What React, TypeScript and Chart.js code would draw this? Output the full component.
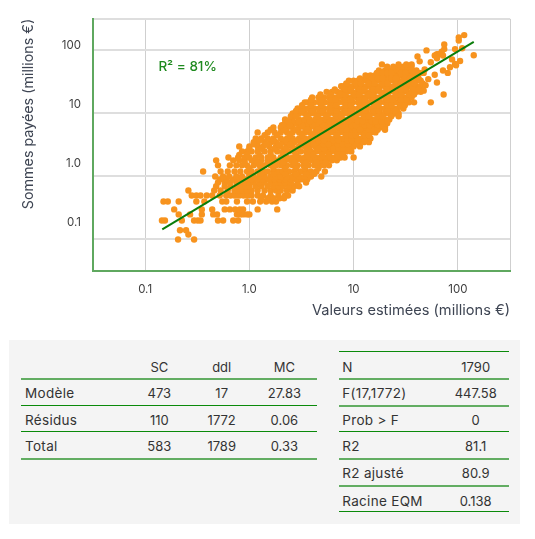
import React, { useEffect, useRef } from "react";
import { Chart, registerables } from "chart.js";

Chart.register(...registerables);

const FONT = "Inter, 'Open Sans', sans-serif";
const xTickValues = [0.1, 1, 10, 100];
const yTickValues = [0.1, 1, 10, 100];
const xTitle = "Valeurs estimées (millions €)";
const yTitle = "Sommes payées (millions €)";
const r2Label = "R² = 81%";

const fitEstimated = [0.146, 142];
const fitPaid = [0.145, 137];

// Paid values appear in rows; each row lists the estimated values read along it
const paidRows = [
  0.1, 0.12, 0.14, 0.2, 0.25, 0.3, 0.4, 0.5, 0.6, 0.7, 0.8, 0.9, 1, 1.2, 1.5, 1.8, 2, 2.5, 3, 3.5, 4, 5, 6, 7, 8, 10,
  12, 15, 18, 22, 27, 33, 40, 48, 55, 60,
];
const estimatedRows = [
  [0.207, 0.295],
  [0.26],
  [0.216, 0.247],
  [0.145, 0.155, 0.225, 0.295, 0.32, 0.34, 0.5, 0.56, 0.7, 0.78],
  [0.21, 0.27, 0.35, 0.45, 0.49, 0.76, 0.81, 0.87, 0.95, 1.0],
  [0.19, 0.35, 0.44, 0.58, 0.65, 0.73, 0.81, 0.87, 1.2, 1.85],
  [0.15, 0.165, 0.21, 0.31, 0.37, 0.55, 0.6, 0.76, 0.95, 1.08, 1.27, 1.45, 1.65, 1.8],
  [0.28, 0.31, 0.34, 0.39, 0.44, 0.52, 0.6, 0.66, 0.72, 0.8, 0.88, 0.96, 1.05, 1.2, 1.35, 1.6, 1.9, 2.2, 2.35],
  [0.26, 0.46, 0.53, 0.62, 0.72, 0.78, 0.86, 0.95, 1.05, 1.2, 1.4, 1.6, 1.8, 2.0, 2.3, 2.6],
  [0.48, 0.58, 0.66, 0.76, 0.84, 0.92, 1.0, 1.15, 1.3, 1.5, 1.7, 1.9, 2.1, 2.4, 2.7, 3.0],
  [0.5, 0.58, 0.65, 0.75, 0.9, 1.0, 1.1, 1.25, 1.4, 1.6, 1.8, 2.0, 2.2, 2.5, 2.9, 3.5],
  [0.52, 0.6, 0.7, 0.8, 0.92, 1.05, 1.2, 1.35, 1.55, 1.75, 1.95, 2.2, 2.5, 2.8, 3.2, 3.6],
  [0.47, 0.56, 0.64, 0.75, 0.85, 1.0, 1.1, 1.25, 1.4, 1.6, 1.8, 2.0, 2.3, 2.6, 3.0, 3.4, 3.9, 4.9],
  [0.36, 0.53, 0.62, 0.72, 0.82, 0.95, 1.05, 1.2, 1.35, 1.5, 1.7, 1.9, 2.1, 2.4, 2.7, 3.1, 3.5, 3.9, 4.4, 5.3],
  [0.5, 0.65, 0.75, 0.85, 0.95, 1.1, 1.25, 1.4, 1.6, 1.8, 2.0, 2.3, 2.6, 2.9, 3.3, 3.7, 4.2, 4.7, 5.2, 5.8],
  [0.48, 0.7, 0.8, 0.9, 1.05, 1.15, 1.3, 1.5, 1.7, 1.9, 2.2, 2.5, 2.8, 3.2, 3.6, 4.0, 4.5, 5, 5.6, 6.2, 6.9],
  [0.63, 0.78, 0.9, 1, 1.15, 1.3, 1.5, 1.7, 2, 2.3, 2.6, 3, 3.4, 3.8, 4.3, 4.8, 5.3, 6, 6.6, 7.5, 8.2, 10],
  [0.85, 0.95, 1.05, 1.2, 1.4, 1.6, 1.85, 2.1, 2.4, 2.7, 3.1, 3.5, 3.9, 4.4, 4.9, 5.5, 6.1, 6.8, 7.6, 8.5, 9.5],
  [0.8, 1.0, 1.2, 1.35, 1.55, 1.8, 2, 2.3, 2.6, 3, 3.4, 3.8, 4.3, 4.8, 5.4, 6, 6.7, 7.4, 8.2, 9, 10, 11.5],
  [1.1, 1.2, 1.4, 1.6, 1.8, 2.1, 2.4, 2.7, 3.1, 3.5, 3.9, 4.4, 4.9, 5.5, 6.1, 6.8, 7.5, 8.3, 9.2, 10.2, 11.2, 12.5, 14],
  [1.15, 1.3, 1.5, 1.7, 2, 2.3, 2.6, 3, 3.4, 3.8, 4.3, 4.8, 5.3, 5.9, 6.6, 7.3, 8.1, 9, 10, 11, 12.2, 13.5, 14.5],
  [1.2, 1.5, 1.75, 2, 2.3, 2.6, 3, 3.4, 3.8, 4.3, 4.8, 5.3, 5.9, 6.5, 7.2, 8, 8.9, 9.8, 10.8, 12, 13.2, 14.6, 16.2],
  [1.7, 2, 2.3, 2.6, 3, 3.4, 3.8, 4.3, 4.8, 5.4, 6, 6.7, 7.4, 8.2, 9.1, 10, 11, 12.2, 13.5, 15, 16.5, 18, 20],
  [2.2, 2.5, 2.8, 3.2, 3.6, 4, 4.5, 5, 5.6, 6.2, 6.9, 7.7, 8.5, 9.4, 10.4, 11.5, 12.7, 14, 15.5, 17, 19, 21],
  [2.2, 2.6, 3, 3.4, 3.8, 4.3, 4.8, 5.3, 5.9, 6.5, 7.2, 8, 8.9, 9.9, 11, 12, 13.3, 14.7, 16.2, 18, 20, 22],
  [2.6, 3, 3.4, 3.8, 4.2, 4.7, 5.2, 5.8, 6.5, 7.2, 8, 8.9, 9.9, 11, 12.2, 13.5, 15, 16.5, 18, 20, 22, 24.5, 27],
  [2.9, 3.3, 3.7, 4.2, 4.7, 5.2, 5.8, 6.4, 7.1, 8, 8.9, 9.8, 11, 12.2, 13.5, 15, 16.5, 18, 20, 22, 24, 26.5, 30],
  [3.4, 3.6, 4.2, 4.7, 5.3, 5.9, 6.5, 7.2, 8, 8.9, 9.8, 11, 12, 13.5, 15, 16.5, 18, 20, 22, 25, 27.5, 30.5, 34, 38],
  [4, 4.6, 5.2, 5.8, 6.4, 7, 7.8, 8.7, 9.7, 10.7, 12, 13.2, 14.7, 16.3, 18, 20, 22, 24.5, 27, 30, 33, 36],
  [5.5, 6.2, 7, 7.8, 8.7, 9.6, 10.7, 11.8, 13, 14.5, 16, 18, 20, 22, 24.5, 27, 30, 33, 36, 40, 44],
  [7.6, 8, 8.9, 9.8, 10.8, 12, 13.3, 14.7, 16.3, 18, 20, 22, 24.5, 27, 30, 33, 36, 40, 44],
  [9, 10, 11, 12.2, 13.5, 15, 16.5, 18, 20, 22, 24.5, 27, 30, 33, 36, 40, 44],
  [13, 14.5, 16, 18, 20, 22, 24.5, 27, 30, 33, 36, 40],
  [17.5, 20, 22, 24.5, 27, 30, 33, 36, 40],
  [21, 24, 27, 30, 33, 36],
  [18.7, 27, 32, 36],
];
// Points lying between the rows inside the dense part of the cloud
const paidBetween = [0.45, 1.1, 1.35, 1.65, 2.2, 2.75, 3.25, 3.75, 4.5, 5.5, 6.5, 7.5, 9, 11, 13.5, 16.5, 20, 24, 30, 36, 44];
const estimatedBetween = [
  [1.3, 1.5, 1.7, 1.95, 2.15],
  [1.0, 1.3, 1.7, 2.2, 2.8, 3.5, 4.2],
  [1.0, 1.3, 1.7, 2.2, 2.8, 3.4, 4.6],
  [0.9, 1.2, 1.5, 2.1, 2.7, 3.5, 4.4, 5.4],
  [0.8, 0.95, 1.25, 1.6, 2.1, 2.8, 3.6, 4.1, 5, 5.8, 7, 7.9],
  [1.0, 1.3, 1.75, 2.25, 2.9, 3.7, 4.6, 5.2, 6.4, 7.2, 8, 9],
  [1.1, 1.45, 1.9, 2.45, 3.2, 4.1, 5.1, 5.7, 7, 7.8, 8.8, 10.5],
  [1.25, 1.7, 2.2, 2.9, 3.7, 4.6, 5.2, 6.4, 7.1, 8.7, 9.6, 11, 12.8],
  [1.4, 1.85, 2.45, 3.2, 4.05, 5.1, 5.6, 6.9, 8.5, 9.5, 10.5, 12.6, 14],
  [1.6, 2.15, 2.8, 3.6, 4.55, 5.6, 6.3, 7.8, 8.5, 10.4, 11.5, 14, 15.4, 17],
  [2.05, 2.45, 3.2, 4.05, 5.1, 5.7, 7, 7.8, 9.6, 10.5, 12.8, 14.2, 17.2, 19],
  [2.35, 2.95, 3.8, 4.75, 5.9, 6.6, 8.1, 9, 11, 12.2, 14.8, 16.2, 18.5, 21],
  [2.5, 2.8, 3.6, 4.5, 5.5, 6.8, 7.6, 9.4, 10.4, 12.6, 14, 17, 19, 23],
  [2.8, 3.2, 4, 5, 6.1, 6.8, 8.4, 9.3, 11.5, 12.8, 15.7, 17.3, 21, 25],
  [3.2, 3.9, 4.9, 6, 6.8, 8.4, 9.4, 11.6, 12.8, 15.8, 17.2, 21, 23, 28, 31],
  [3.9, 4.9, 6.1, 6.7, 8.3, 9.3, 11.4, 12.8, 15.5, 17.2, 21, 23.5, 28.5, 32],
  [4.8, 6, 7.4, 8.3, 10.2, 11.3, 14, 15.3, 19, 21, 25.5, 28.5, 34, 38],
  [6.6, 8.4, 9.4, 11.5, 12.7, 15.5, 17.2, 21, 23.5, 28.5, 31.5, 38, 42],
  [8.5, 10.5, 11.7, 14, 15.8, 19, 21, 25.5, 28.5, 34.5, 38, 46],
  [11.5, 15.2, 17, 19, 23, 25.5, 31, 34.5, 42],
  [16.7, 19, 21, 23, 28.5, 31.5, 38, 43, 47],
];
// Isolated points at the upper end and along the lower edge
const outlierEstimated = [
  41, 50, 63, 70, 74, 94, 110, 102, 102, 115, 142, 105, 94, 80, 72, 55, 73, 27, 20, 66, 60, 72, 63, 55, 48, 43, 88, 96, 84, 60, 52, 49, 47, 63, 74,
];
const outlierPaid = [
  80, 100, 87, 95, 124, 105, 108, 143, 160, 175, 84, 68, 61, 44, 48, 15, 20, 9, 5.5, 87, 83, 83, 75, 65, 50, 67, 72, 58, 54, 41, 35, 28, 23, 31, 105,
];

const anovaHeaders = ["", "SC", "ddl", "MC"];
const anovaRows = [
  ["Modèle", "473", "17", "27.83"],
  ["Résidus", "110", "1772", "0.06"],
  ["Total", "583", "1789", "0.33"],
];
const fitRows = [
  ["N", "1790"],
  ["F(17,1772)", "447.58"],
  ["Prob > F", "0"],
  ["R2", "81.1"],
  ["R2 ajusté", "80.9"],
  ["Racine EQM", "0.138"],
];

const scatterPoints = [
  ...paidRows.flatMap((y, i) => estimatedRows[i].map((x) => ({ x, y }))),
  ...paidBetween.flatMap((y, i) => estimatedBetween[i].map((x) => ({ x, y }))),
  ...outlierEstimated.map((x, i) => ({ x, y: outlierPaid[i] })),
];

const setTicks = (values: number[]) => (scale: any) => {
  scale.ticks = values.map((value) => ({ value }));
};
const tickText = (v: any) => (v === 0.1 ? "0.1" : v === 1 ? "1.0" : v === 10 ? "10" : v === 100 ? "100" : "");

const DARK = "1px solid #0a8a0a";
const SOFT = "2px solid #62ad62";

function Cell({ x, y, w, align, label, children }: any) {
  return (
    <div
      style={{
        position: "absolute",
        left: x,
        top: y - 10,
        width: w,
        height: 20,
        lineHeight: "20px",
        textAlign: align,
        whiteSpace: "nowrap",
        fontSize: label ? 13.5 : 13,
        letterSpacing: label ? 0.3 : 0,
      }}
    >
      {children}
    </div>
  );
}
function Rule({ x, y, w, line }: any) {
  return <div style={{ position: "absolute", left: x, top: y - 1, width: w, borderTop: line }} />;
}

export default function App() {
  const ref = useRef<HTMLCanvasElement>(null);
  useEffect(() => {
    const r2Plugin = {
      id: "r2",
      afterDatasetsDraw(chart: any) {
        const { ctx, scales } = chart;
        ctx.save();
        ctx.font = `500 13.5px ${FONT}`;
        ctx.fillStyle = "#1f8a1f";
        ctx.textBaseline = "middle";
        ctx.fillText(r2Label, scales.x.getPixelForValue(0.134), scales.y.getPixelForValue(54));
        ctx.restore();
      },
    };
    const chart = new Chart(ref.current as HTMLCanvasElement, {
      type: "scatter",
      data: {
        datasets: [
          {
            type: "line",
            data: fitEstimated.map((x, i) => ({ x, y: fitPaid[i] })),
            borderColor: "#0a7d0a",
            borderWidth: 2,
            pointRadius: 0,
            order: 0,
            yAxisID: "y",
          },
          {
            data: scatterPoints,
            backgroundColor: "#f7931e",
            borderWidth: 0,
            pointRadius: 3.2,
            order: 1,
            yAxisID: "y",
          },
        ],
      } as any,
      options: {
        animation: false,
        responsive: false,
        events: [],
        layout: { padding: { top: 16, right: 25, left: 0, bottom: 0 } },
        plugins: { legend: { display: false }, tooltip: { enabled: false } },
        scales: {
          x: {
            type: "logarithmic",
            min: 10 ** -1.5,
            max: 10 ** 2.5,
            afterBuildTicks: setTicks([10 ** -1.5, ...xTickValues, 10 ** 2.5]),
            afterFit: (s: any) => {
              s.height = 49;
            },
            grid: { color: "#cfcfcf", lineWidth: 1, drawTicks: false },
            border: { color: "#5fa85f", width: 2 },
            ticks: {
              callback: tickText,
              autoSkip: false,
              maxRotation: 0,
              padding: 12,
              color: "#3f3f3f",
              font: { family: FONT, size: 11.5 },
            },
            title: {
              display: true,
              text: xTitle,
              align: "end",
              color: "#3e4553",
              font: { family: FONT, size: 14.6 },
              padding: { top: 0, bottom: 1 },
            },
          },
          y: {
            type: "logarithmic",
            position: "left",
            min: 10 ** -1.5,
            max: 10 ** 2.5,
            weight: 1,
            afterBuildTicks: setTicks([10 ** -1.5, ...yTickValues, 10 ** 2.5]),
            afterFit: (s: any) => {
              s.width = 0;
            },
            grid: { color: "#dedede", lineWidth: 2, drawTicks: false },
            border: { color: "#5fa85f", width: 2 },
            ticks: { display: false },
          },
          yLabels: {
            type: "logarithmic",
            position: "left",
            weight: 2,
            min: 10 ** -1.821,
            max: 10 ** 2.4525,
            afterBuildTicks: setTicks(yTickValues),
            afterFit: (s: any) => {
              s.width = 93;
            },
            grid: { display: false, drawTicks: false },
            border: { display: false },
            ticks: {
              callback: tickText,
              autoSkip: false,
              padding: 12,
              color: "#3f3f3f",
              font: { family: FONT, size: 11.5 },
            },
            title: {
              display: true,
              text: yTitle,
              align: "end",
              color: "#3e4553",
              font: { family: FONT, size: 14.3 },
              padding: { top: 20, bottom: 0 },
            },
          },
        },
      } as any,
      plugins: [r2Plugin],
    });
    return () => chart.destroy();
  }, []);

  const rowY = [393.3, 420, 446];
  const anovaX = [159.3, 221.7, 284.4];
  const fitY = [366.7, 393.3, 420, 446, 473.3, 500.7];
  return (
    <div style={{ position: "absolute", left: 0, top: 0, width: 535, height: 539, fontFamily: FONT, color: "#333" }}>
      <canvas ref={ref} width={535} height={320} style={{ display: "block", width: 535, height: 320 }} />
      <div style={{ position: "absolute", left: 9, top: 340, width: 511, height: 184, background: "#f4f4f4" }} />
      {anovaHeaders.slice(1).map((h, i) => (
        <Cell key={h} x={anovaX[i] - 35} y={366.7} w={70} align="center">
          {h}
        </Cell>
      ))}
      {anovaRows.map((row, r) => (
        <React.Fragment key={row[0]}>
          <Cell x={25} y={rowY[r]} w={90} align="left" label>
            {row[0]}
          </Cell>
          {row.slice(1).map((v, i) => (
            <Cell key={i} x={anovaX[i] - 35} y={rowY[r]} w={70} align="center">
              {v}
            </Cell>
          ))}
        </React.Fragment>
      ))}
      <Rule x={21} y={379} w={296} line={SOFT} />
      <Rule x={21} y={405.7} w={296} line={DARK} />
      <Rule x={21} y={432.3} w={296} line={DARK} />
      <Rule x={21} y={459} w={296} line={SOFT} />
      {fitRows.map((row, r) => (
        <React.Fragment key={row[0]}>
          <Cell x={342.3} y={fitY[r]} w={100} align="left" label>
            {row[0]}
          </Cell>
          <Cell x={440.7} y={fitY[r]} w={70} align="center">
            {row[1]}
          </Cell>
        </React.Fragment>
      ))}
      <Rule x={339} y={352.3} w={170} line={DARK} />
      <Rule x={339} y={379} w={170} line={SOFT} />
      <Rule x={339} y={405.7} w={170} line={SOFT} />
      <Rule x={339} y={432.3} w={170} line={DARK} />
      <Rule x={339} y={459} w={170} line={SOFT} />
      <Rule x={339} y={485.7} w={170} line={SOFT} />
      <Rule x={339} y={512.3} w={170} line={DARK} />
    </div>
  );
}
